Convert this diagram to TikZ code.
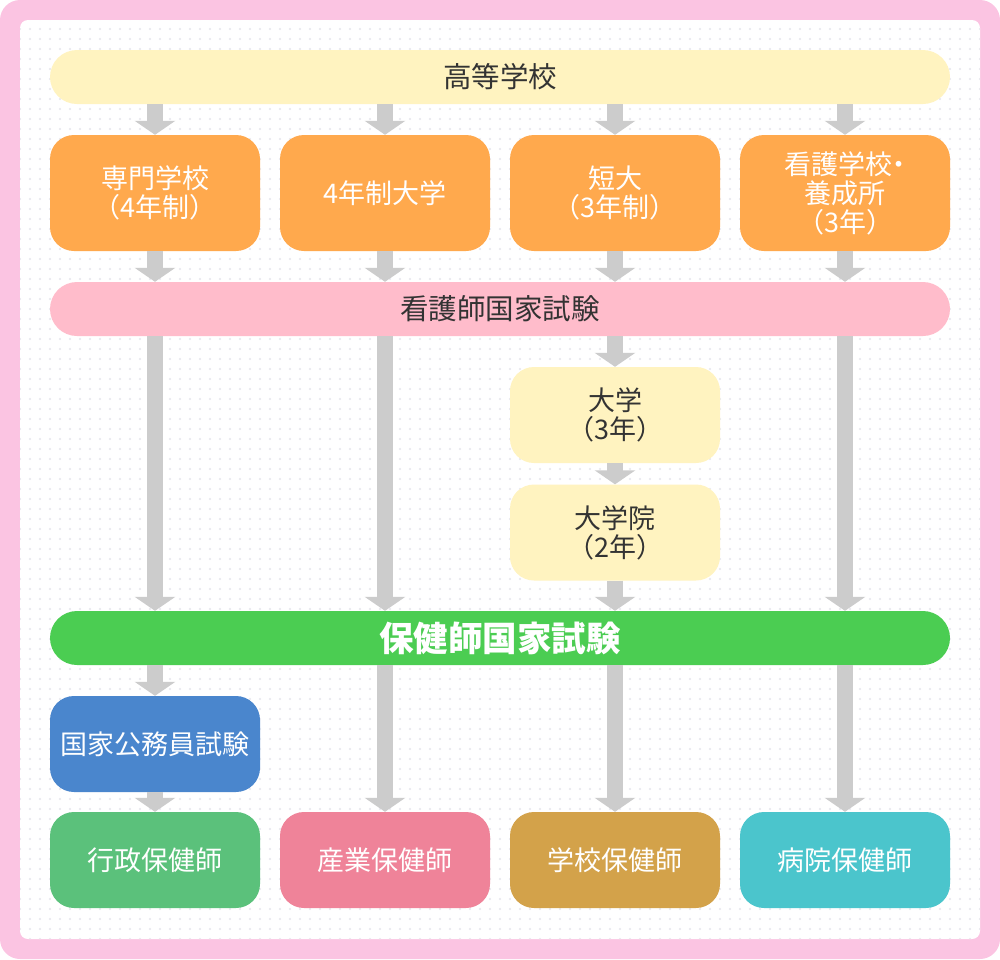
\documentclass[tikz,border=0pt]{standalone}
\usepackage{fontspec}
\setmainfont{Noto Sans CJK JP}
\usetikzlibrary{arrows.meta,patterns.meta}

\definecolor{frame}{HTML}{FBC4E2}
\definecolor{dotgray}{HTML}{E4E4ED}
\definecolor{creamy}{HTML}{FFF3C0}
\definecolor{course}{HTML}{FFA94D}
\definecolor{nursebar}{HTML}{FFBCCB}
\definecolor{phnbar}{HTML}{4BCD52}
\definecolor{civilblue}{HTML}{4A86CD}
\definecolor{gyousei}{HTML}{5BC17B}
\definecolor{sangyou}{HTML}{EF8399}
\definecolor{gakkou}{HTML}{D3A24A}
\definecolor{byouin}{HTML}{4BC5CC}
\definecolor{arrowgray}{HTML}{CCCCCC}
\definecolor{textdark}{HTML}{333333}

\tikzset{
  every node/.style={font=\fontsize{27pt}{29pt}\selectfont},
  bar/.style={rectangle, rounded corners=27pt, minimum width=900pt,
    minimum height=54pt, inner sep=0pt, text=textdark,
    font=\fontsize{28.5pt}{30pt}\selectfont},
  box/.style={rectangle, rounded corners=24pt, minimum width=210pt,
    minimum height=96pt, inner sep=0pt, align=center, text=white},
  tallbox/.style={box, minimum height=116pt},
  flow/.style={draw=arrowgray, line width=16pt,
    -{Triangle[length=14pt,width=40pt]}}
}

\begin{document}
\begin{tikzpicture}[x=1pt, y=-1pt]
  \useasboundingbox (0,0) rectangle (1000,959);
  % frame and dotted paper
  \fill[frame, rounded corners=20pt] (0,0) rectangle (1000,959);
  \fill[white, rounded corners=8pt] (20,20) rectangle (980,939);
  \fill[pattern={Dots[distance=10pt,radius=1.2pt]}, pattern color=dotgray,
    rounded corners=8pt] (20,20) rectangle (980,939);

  \node[bar, fill=creamy] (hs) at (500,77) {高等学校};

  \node[tallbox, fill=course] (senmon) at (155,193) {専門学校\\（4年制）};
  \node[tallbox, fill=course] (univ) at (385,193) {4年制大学};
  \node[tallbox, fill=course] (tandai) at (615,193) {短大\\（3年制）};
  \node[tallbox, fill=course] (kango) at (845,193)
    {看護学校\kern-0.25em・\kern-0.25em\\養成所\\（3年）};

  \node[bar, fill=nursebar] (ns) at (500,309) {看護師国家試験};

  \node[box, fill=creamy, text=textdark] (daigaku) at (615,415) {大学\\（3年）};
  \node[box, fill=creamy, text=textdark] (grad) at (615,532.5) {大学院\\（2年）};

  \node[bar, fill=phnbar, text=white,
    font=\fontsize{34.5pt}{36pt}\selectfont\bfseries] (phn) at (500,638) {保健師国家試験};

  \node[box, fill=civilblue] (civil) at (155,744) {国家公務員試験};

  \node[box, fill=gyousei] (gyousei) at (155,860) {行政保健師};
  \node[box, fill=sangyou] (sangyou) at (385,860) {産業保健師};
  \node[box, fill=gakkou] (gakkou) at (615,860) {学校保健師};
  \node[box, fill=byouin] (byouin) at (845,860) {病院保健師};

  % arrows
  \foreach \n in {senmon,univ,tandai,kango} {
    \draw[flow] (hs.south -| \n) -- (\n.north);
    \draw[flow] (\n.south) -- (ns.north -| \n);
  }
  \foreach \n in {senmon,univ,kango}
    \draw[flow] (ns.south -| \n) -- (phn.north -| \n);
  \draw[flow] (ns.south -| daigaku) -- (daigaku.north);
  \draw[flow] (daigaku) -- (grad);
  \draw[flow] (grad.south) -- (phn.north -| grad);

  \draw[flow] (phn.south -| civil) -- (civil.north);
  \draw[flow] (civil) -- (gyousei);
  \foreach \n in {sangyou,gakkou,byouin}
    \draw[flow] (phn.south -| \n) -- (\n.north);
\end{tikzpicture}
\end{document}
